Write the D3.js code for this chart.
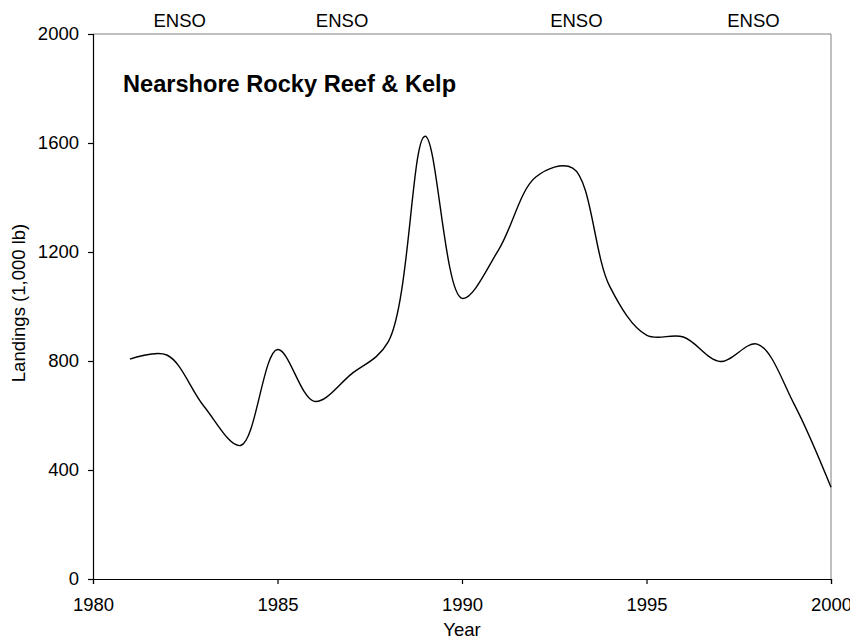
<!DOCTYPE html>
<html><head><meta charset="utf-8">
<script src="https://cdn.jsdelivr.net/npm/d3@7"></script>
<style>body{margin:0;background:#fff}svg{display:block}text{font-family:"Liberation Sans",Arial,sans-serif}</style>
</head><body>
<script>
const years = [1981,1982,1983,1984,1985,1986,1987,1988,1989,1990,1991,1992,1993,1994,1995,1996,1997,1998,1999,2000];
const landings = [807,822,635,490,842,652,752,870,1625,1030,1210,1475,1508,1075,895,888,798,862,642,337];
const yTicks = [0,400,800,1200,1600,2000];
const xTicks = [1980,1985,1990,1995,2000];
const ensoLabels = ["ENSO","ENSO","ENSO","ENSO"];
const ensoYears = [1982.35,1986.75,1993.1,1997.9];
const title = "Nearshore Rocky Reef & Kelp";

const W=850,H=639;
const m={l:93,t:34,r:19,b:60};
const svg=d3.select("body").append("svg").attr("width",W).attr("height",H);
const x=d3.scaleLinear().domain([1980,2000]).range([m.l,W-m.r]);
const y=d3.scaleLinear().domain([0,2000]).range([H-m.b,m.t]);

svg.append("path").attr("d",`M${x(1980)},${y(2000)}H${x(2000)}V${y(0)}`).attr("fill","none").attr("stroke","#808080").attr("stroke-width",1);

const fs="18.5px";
const gx=svg.append("g").attr("transform",`translate(0,${y(0)})`)
  .call(d3.axisBottom(x).tickValues(xTicks).tickFormat(d3.format("d")).tickSize(5).tickPadding(14));
const gy=svg.append("g").attr("transform",`translate(${x(1980)},0)`)
  .call(d3.axisLeft(y).tickValues(yTicks).tickFormat(d3.format("d")).tickSize(5).tickPadding(9));
[gx,gy].forEach(g=>{g.selectAll("path,line").attr("stroke","#000").attr("stroke-width",1.2);
  g.selectAll("text").attr("font-size",fs).attr("fill","#000").attr("font-family","Liberation Sans, Arial, sans-serif");});

svg.append("path").datum(years.map((d,i)=>[d,landings[i]]))
  .attr("d",d3.line().x(d=>x(d[0])).y(d=>y(d[1])).curve(d3.curveCatmullRom.alpha(0.5)))
  .attr("fill","none").attr("stroke","#000").attr("stroke-width",1.4);

svg.selectAll(".enso").data(ensoYears).join("text").attr("class","enso")
  .attr("x",d=>x(d)).attr("y",27).attr("text-anchor","middle").attr("font-size",fs)
  .text((d,i)=>ensoLabels[i]);

svg.append("text").attr("x",123).attr("y",92).attr("font-size","23.6px").attr("font-weight","bold").text(title);

svg.append("text").attr("transform",`translate(25,303) rotate(-90)`)
  .attr("text-anchor","middle").attr("font-size",fs).text("Landings (1,000 lb)");
svg.append("text").attr("x",(x(1980)+x(2000))/2).attr("y",636).attr("text-anchor","middle").attr("font-size",fs).text("Year");
</script>
</body></html>
